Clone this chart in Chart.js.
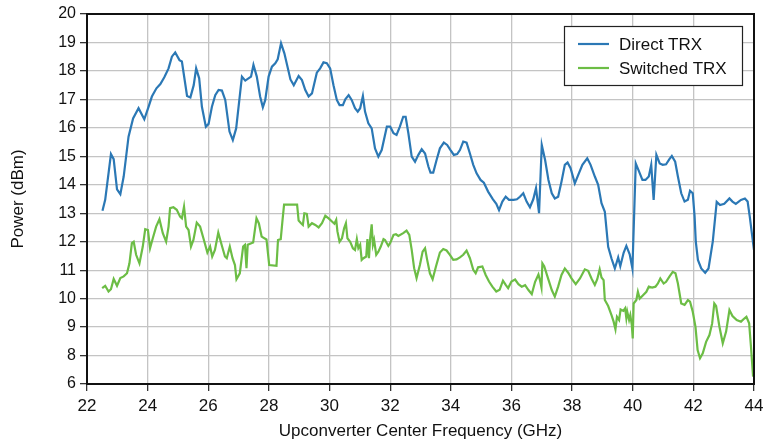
<!DOCTYPE html>
<html>
<head>
<meta charset="utf-8">
<script src="https://cdn.jsdelivr.net/npm/chart.js@4"></script>
<style>
  html, body { margin: 0; padding: 0; background: #fff; }
  #wrap { width: 765px; height: 442px; }
</style>
</head>
<body>
<div id="wrap"><canvas id="powerChart" width="765" height="442"></canvas></div>
<script>
// ===== data =====
const freqDirect = [22.51,22.6,22.79,22.88,22.99,23.1,23.21,23.37,23.52,23.7,23.89,24.03,24.14,24.29,24.42,24.55,24.69,24.8,24.91,25.05,25.13,25.3,25.41,25.52,25.6,25.7,25.79,25.92,26.01,26.12,26.23,26.34,26.45,26.56,26.7,26.81,26.92,27.11,27.22,27.41,27.49,27.6,27.71,27.8,27.88,27.99,28.1,28.21,28.29,28.4,28.51,28.6,28.71,28.82,28.98,29.09,29.2,29.31,29.42,29.58,29.69,29.8,29.91,30.02,30.13,30.24,30.33,30.44,30.52,30.63,30.73,30.84,30.93,31.01,31.1,31.17,31.28,31.39,31.5,31.61,31.72,31.89,32.0,32.11,32.21,32.32,32.43,32.51,32.6,32.71,32.82,32.93,33.04,33.15,33.26,33.33,33.42,33.53,33.64,33.77,33.88,33.99,34.1,34.21,34.3,34.41,34.52,34.63,34.74,34.85,34.98,35.09,35.23,35.39,35.5,35.59,35.7,35.81,35.92,36.07,36.18,36.28,36.39,36.5,36.61,36.72,36.81,36.91,37.0,37.11,37.22,37.33,37.43,37.54,37.65,37.76,37.85,37.95,38.09,38.2,38.34,38.5,38.61,38.75,38.86,38.97,39.08,39.19,39.3,39.41,39.52,39.59,39.7,39.79,39.9,39.99,40.1,40.21,40.32,40.42,40.53,40.61,40.69,40.78,40.89,40.99,41.1,41.21,41.29,41.4,41.49,41.6,41.71,41.82,41.89,41.98,42.04,42.08,42.15,42.26,42.39,42.5,42.64,42.77,42.88,43.02,43.19,43.29,43.4,43.57,43.7,43.79,43.86,44.0];
const powerDirect = [13.09,13.47,15.08,14.9,13.84,13.67,14.29,15.69,16.33,16.69,16.3,16.74,17.1,17.39,17.54,17.78,18.09,18.5,18.65,18.38,18.33,17.12,17.07,17.5,18.09,17.74,16.74,16.04,16.14,16.74,17.15,17.33,17.31,16.98,15.87,15.57,15.98,17.8,17.66,17.8,18.21,17.8,17.1,16.72,16.98,17.8,18.15,18.27,18.41,18.97,18.62,18.21,17.7,17.5,17.82,17.68,17.33,17.1,17.21,17.94,18.09,18.3,18.27,18.09,17.5,16.98,16.8,16.8,17.0,17.15,16.98,16.69,16.57,16.69,17.12,16.57,16.16,15.98,15.28,14.99,15.22,16.04,16.04,15.81,15.75,16.04,16.39,16.39,15.81,14.99,14.81,15.05,15.25,15.1,14.64,14.43,14.43,14.87,15.28,15.48,15.4,15.22,15.05,15.08,15.22,15.52,15.48,15.1,14.7,14.4,14.17,14.07,13.76,13.49,13.33,13.11,13.41,13.58,13.47,13.47,13.49,13.58,13.7,13.41,13.21,13.49,13.88,13.0,15.4,14.87,14.17,13.7,13.52,13.58,14.11,14.7,14.78,14.58,14.05,14.34,14.7,14.93,14.7,14.29,14.0,13.35,13.05,11.82,11.41,11.06,11.45,11.14,11.61,11.85,11.56,11.06,14.75,14.46,14.17,14.17,14.29,14.7,13.47,15.05,14.75,14.7,14.72,14.9,15.01,14.81,14.29,13.7,13.41,13.47,13.79,13.7,12.9,12.0,11.36,11.06,10.91,11.06,12.0,13.4,13.29,13.33,13.52,13.41,13.33,13.47,13.52,13.41,12.88,11.7];

const freqSwitched = [22.5,22.6,22.71,22.79,22.88,22.99,23.1,23.21,23.32,23.4,23.48,23.54,23.62,23.73,23.84,23.92,24.01,24.08,24.17,24.28,24.39,24.5,24.61,24.69,24.74,24.85,24.96,25.07,25.13,25.2,25.27,25.35,25.43,25.51,25.62,25.73,25.84,25.97,26.06,26.13,26.22,26.33,26.44,26.55,26.61,26.71,26.8,26.88,26.93,27.04,27.15,27.21,27.26,27.3,27.48,27.59,27.67,27.76,27.85,27.92,28.01,28.25,28.3,28.39,28.45,28.5,28.93,28.98,29.06,29.12,29.17,29.25,29.31,29.42,29.53,29.64,29.75,29.86,29.97,30.08,30.16,30.22,30.26,30.33,30.41,30.48,30.54,30.59,30.68,30.77,30.84,30.9,30.95,31.01,31.06,31.12,31.21,31.25,31.3,31.34,31.39,31.43,31.47,31.54,31.61,31.69,31.78,31.83,31.94,32.0,32.11,32.19,32.27,32.43,32.54,32.63,32.71,32.79,32.87,32.98,33.07,33.15,33.22,33.31,33.4,33.51,33.64,33.75,33.86,33.97,34.08,34.19,34.3,34.41,34.52,34.63,34.74,34.82,34.9,35.04,35.15,35.26,35.37,35.5,35.61,35.72,35.81,35.89,36.0,36.12,36.23,36.34,36.45,36.56,36.67,36.78,36.89,36.94,36.99,37.02,37.08,37.22,37.33,37.43,37.54,37.65,37.76,37.87,37.98,38.12,38.26,38.42,38.53,38.64,38.75,38.83,38.91,38.97,39.04,39.08,39.19,39.3,39.37,39.43,39.48,39.55,39.6,39.69,39.75,39.79,39.82,39.88,39.92,39.97,40.0,40.03,40.12,40.17,40.23,40.34,40.45,40.53,40.64,40.75,40.83,40.91,41.02,41.1,41.21,41.32,41.41,41.49,41.6,41.71,41.82,41.89,41.98,42.07,42.14,42.22,42.31,42.42,42.53,42.62,42.69,42.75,42.86,42.97,43.08,43.19,43.29,43.43,43.57,43.68,43.75,43.84,43.9,43.97];
const powerSwitched = [10.37,10.45,10.25,10.33,10.69,10.45,10.72,10.78,10.89,11.24,11.95,12.0,11.54,11.24,11.83,12.44,12.41,11.77,12.12,12.53,12.79,12.3,12.0,12.53,13.18,13.21,13.12,12.88,12.82,13.23,12.53,12.41,11.83,12.06,12.67,12.53,12.12,11.62,11.83,11.48,11.71,12.32,11.89,11.48,11.42,11.83,11.42,11.18,10.68,10.89,11.83,11.89,11.07,11.89,11.97,12.82,12.64,12.18,12.12,12.08,11.18,11.15,12.06,12.09,12.77,13.3,13.3,12.74,12.65,12.59,13.0,12.98,12.53,12.65,12.59,12.5,12.65,12.91,12.82,12.71,12.63,12.77,12.36,12.0,12.12,12.47,12.65,12.12,12.0,11.77,11.71,12.09,11.77,11.89,11.36,11.42,11.48,12.09,11.42,12.12,12.61,11.89,12.06,11.54,11.65,11.83,12.09,12.06,11.85,11.95,12.24,12.26,12.2,12.3,12.39,12.24,11.71,11.07,10.72,11.18,11.65,11.77,11.36,10.89,10.68,11.13,11.62,11.74,11.69,11.54,11.36,11.38,11.45,11.54,11.69,11.42,11.01,10.89,11.1,11.13,10.83,10.6,10.42,10.25,10.31,10.63,10.48,10.37,10.6,10.67,10.51,10.42,10.47,10.3,10.16,10.59,10.85,10.65,10.39,11.24,11.14,10.67,10.3,10.07,10.42,10.83,11.06,10.91,10.71,10.51,10.71,11.03,10.98,10.71,10.48,10.68,11.03,10.74,10.65,9.95,9.74,9.42,9.19,8.92,9.36,9.25,9.62,9.57,9.66,9.31,9.54,9.25,9.42,9.07,8.6,9.83,9.95,10.24,10.0,10.12,10.24,10.42,10.39,10.42,10.53,10.71,10.53,10.59,10.77,10.94,10.89,10.53,9.83,9.78,9.95,9.89,9.54,9.01,8.19,7.81,8.08,8.48,8.72,9.13,9.83,9.74,9.01,8.43,8.84,9.6,9.39,9.25,9.19,9.3,9.36,9.13,8.31,6.52];

const xTicks = [22,24,26,28,30,32,34,36,38,40,42,44];
const yTicks = [20,19,18,17,16,15,14,13,12,11,10,9,8,6];

const seriesNames = ["Direct TRX", "Switched TRX"];
const seriesColors = ["#2b78b5", "#6cbd45"];

// the axis skips 7: the last grid step goes from 8 down to 6
function toAxis(v) {
    return v >= 8 ? v : 8 - (8 - v) / 2;
}
function axisLabel(v) {
    return v >= 8 ? v : 8 - (8 - v) * 2;
}

function points(xs, ys) {
    return xs.map((x, i) => ({ x: x, y: toAxis(ys[i]) }));
}

// frame round the plot area
const framePlugin = {
    id: "frame",
    afterDatasetsDraw(chart) {
        const { ctx, chartArea: a } = chart;
        ctx.save();
        ctx.strokeStyle = "#111";
        ctx.lineWidth = 2;
        ctx.strokeRect(a.left, a.top, a.right - a.left, a.bottom - a.top);
        ctx.restore();
    }
};

// legend box inside the top right corner
const boxLegend = {
    id: "boxLegend",
    afterDraw(chart) {
        const { ctx, chartArea: a } = chart;
        const w = 178, h = 59;
        const left = a.right - 12 - w;
        const top = a.top + 12;
        ctx.save();
        ctx.fillStyle = "#fff";
        ctx.fillRect(left, top, w, h);
        ctx.strokeStyle = "#222";
        ctx.lineWidth = 1.2;
        ctx.strokeRect(left + 0.5, top + 0.5, w, h);
        ctx.font = "17px 'Liberation Sans', Arial, sans-serif";
        ctx.textBaseline = "middle";
        chart.data.datasets.forEach((ds, i) => {
            const y = top + 18 + i * 24;
            ctx.strokeStyle = ds.borderColor;
            ctx.lineWidth = 2.2;
            ctx.beginPath();
            ctx.moveTo(left + 14, y);
            ctx.lineTo(left + 45, y);
            ctx.stroke();
            ctx.fillStyle = "#111";
            ctx.fillText(ds.label, left + 55, y + 1);
        });
        ctx.restore();
    }
};

const yTickFont = { family: "'Liberation Sans', Arial, sans-serif", size: 16 };
const xTickFont = { family: "'Liberation Sans', Arial, sans-serif", size: 17 };
const titleFont = { family: "'Liberation Sans', Arial, sans-serif", size: 17 };

new Chart(document.getElementById("powerChart"), {
    type: "line",
    data: {
        datasets: [
            {
                label: seriesNames[0],
                data: points(freqDirect, powerDirect),
                borderColor: seriesColors[0],
                borderWidth: 2.2,
                pointRadius: 0,
                tension: 0,
                fill: false
            },
            {
                label: seriesNames[1],
                data: points(freqSwitched, powerSwitched),
                borderColor: seriesColors[1],
                borderWidth: 2.2,
                pointRadius: 0,
                tension: 0,
                fill: false
            }
        ]
    },
    options: {
        responsive: false,
        animation: false,
        layout: { padding: { top: 14, right: 11, left: 0, bottom: 0 } },
        plugins: {
            legend: { display: false },
            tooltip: { enabled: false }
        },
        scales: {
            x: {
                type: "linear",
                min: 22,
                max: 44,
                afterBuildTicks: (s) => { s.ticks = xTicks.map(v => ({ value: v })); },
                ticks: { font: xTickFont, color: "#111", padding: 5, maxRotation: 0 },
                grid: { color: "#c4c4c4", lineWidth: 1.3, tickColor: "#333", tickLength: 7 },
                border: { color: "#111", width: 2 },
                title: {
                    display: true,
                    text: "Upconverter Center Frequency (GHz)",
                    font: titleFont,
                    color: "#111",
                    padding: { top: 2, bottom: 0 }
                },
                afterFit: (s) => {
                    s.height = 58;
                    s.paddingLeft = 0;
                    s.paddingRight = 0;
                }
            },
            y: {
                type: "linear",
                min: 7,
                max: 20,
                afterBuildTicks: (s) => { s.ticks = yTicks.map(v => ({ value: toAxis(v) })); },
                ticks: {
                    font: yTickFont,
                    color: "#111",
                    padding: 4,
                    callback: (v) => axisLabel(v)
                },
                grid: { color: "#c4c4c4", lineWidth: 1.3, tickColor: "#333", tickLength: 7 },
                border: { color: "#111", width: 2 },
                title: {
                    display: true,
                    text: "Power (dBm)",
                    font: titleFont,
                    color: "#111",
                    padding: { top: 8, bottom: 4 }
                },
                afterFit: (s) => {
                    s.width = 87;
                    s.paddingTop = 0;
                    s.paddingBottom = 0;
                }
            }
        }
    },
    plugins: [framePlugin, boxLegend]
});
</script>
</body>
</html>
